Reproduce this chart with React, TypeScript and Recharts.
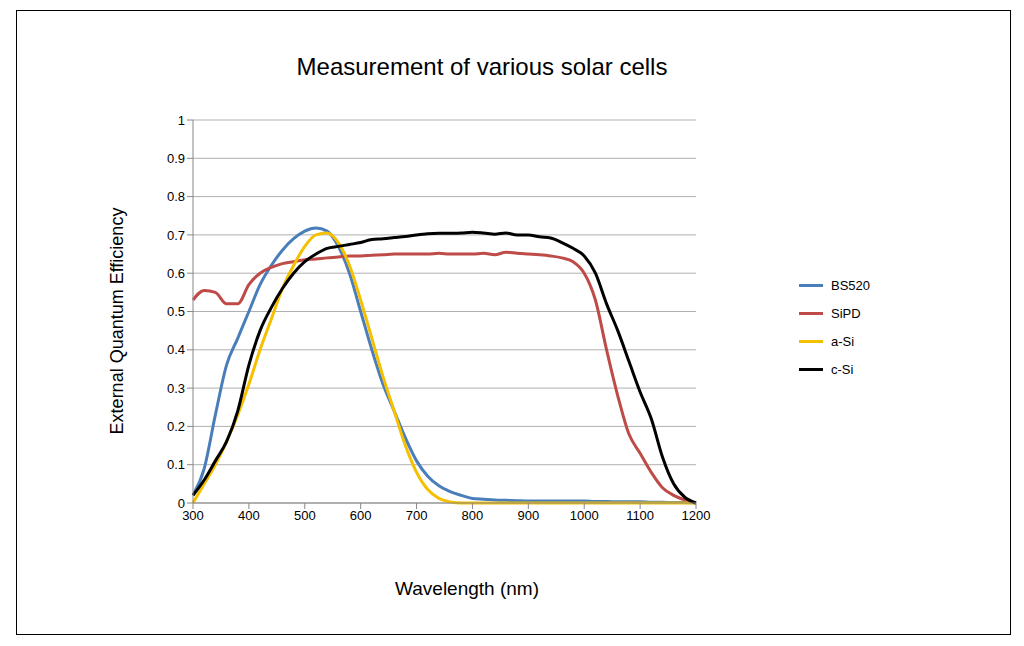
import { LineChart, Line, XAxis, YAxis, CartesianGrid } from 'recharts'

const wavelengths = [300, 320, 340, 360, 380, 400, 420, 440, 460, 480, 500, 520, 540, 560, 580, 600, 620, 640, 660, 680, 700, 720, 740, 760, 780, 800, 820, 840, 860, 880, 900, 920, 940, 960, 980, 1000, 1020, 1040, 1060, 1080, 1100, 1120, 1140, 1160, 1180, 1200]

const bs520 = [0.02, 0.09, 0.23, 0.36, 0.43, 0.5, 0.57, 0.62, 0.66, 0.69, 0.71, 0.718, 0.71, 0.67, 0.6, 0.5, 0.4, 0.31, 0.24, 0.17, 0.11, 0.07, 0.045, 0.03, 0.02, 0.012, 0.01, 0.008, 0.007, 0.006, 0.005, 0.005, 0.005, 0.005, 0.005, 0.005, 0.004, 0.004, 0.003, 0.003, 0.003, 0.002, 0.002, 0.001, 0.001, 0]
const sipd = [0.53, 0.555, 0.55, 0.52, 0.52, 0.57, 0.6, 0.615, 0.625, 0.63, 0.635, 0.637, 0.64, 0.642, 0.645, 0.645, 0.647, 0.648, 0.65, 0.65, 0.65, 0.65, 0.652, 0.65, 0.65, 0.65, 0.652, 0.648, 0.655, 0.652, 0.65, 0.648, 0.645, 0.64, 0.63, 0.6, 0.53, 0.4, 0.28, 0.18, 0.13, 0.08, 0.04, 0.02, 0.008, 0]
const aSi = [0.0, 0.05, 0.1, 0.16, 0.23, 0.31, 0.4, 0.48, 0.56, 0.62, 0.67, 0.7, 0.705, 0.68, 0.62, 0.53, 0.43, 0.33, 0.24, 0.15, 0.08, 0.035, 0.012, 0.003, 0, 0, 0, 0, 0, 0, 0, 0, 0, 0, 0, 0, 0, 0, 0, 0, 0, 0, 0, 0, 0, 0]
const cSi = [0.02, 0.06, 0.11, 0.16, 0.24, 0.36, 0.45, 0.51, 0.56, 0.6, 0.63, 0.65, 0.665, 0.67, 0.675, 0.68, 0.688, 0.69, 0.693, 0.696, 0.7, 0.703, 0.704, 0.704, 0.705, 0.707, 0.705, 0.702, 0.705, 0.7, 0.7, 0.695, 0.692, 0.68, 0.665, 0.645, 0.6, 0.52, 0.45, 0.37, 0.29, 0.22, 0.12, 0.05, 0.015, 0]

const xTicks = [300, 400, 500, 600, 700, 800, 900, 1000, 1100, 1200]
const yTicks = [0, 0.1, 0.2, 0.3, 0.4, 0.5, 0.6, 0.7, 0.8, 0.9, 1]

const series = [
  { key: 'BS520', values: bs520, color: '#4a7ebb' },
  { key: 'SiPD', values: sipd, color: '#be4b48' },
  { key: 'a-Si', values: aSi, color: '#f5c000' },
  { key: 'c-Si', values: cSi, color: '#000000' },
]

const data = wavelengths.map((w, i) => {
  const row: Record<string, number> = { w }
  series.forEach((s) => (row[s.key] = s.values[i]))
  return row
})

const font = '"Liberation Sans", Arial, sans-serif'

export default function App() {
  return (
    <div style={{ position: 'absolute', left: 16, top: 10, width: 993, height: 623, border: '1px solid #000', background: '#fff', fontFamily: font }}>
      <div style={{ position: 'absolute', top: 42, left: 0, width: 930, textAlign: 'center', fontSize: 24 }}>
        Measurement of various solar cells
      </div>
      <div style={{ position: 'absolute', left: 100, top: 310, transform: 'translate(-50%, -50%) rotate(-90deg)', fontSize: 18, whiteSpace: 'nowrap' }}>
        External Quantum Efficiency
      </div>
      <div style={{ position: 'absolute', left: 0, width: 900, top: 567, textAlign: 'center', fontSize: 19 }}>
        Wavelength (nm)
      </div>
      <LineChart width={993} height={623} data={data} margin={{ top: 109, right: 314, bottom: 101, left: 0 }}>
        <CartesianGrid vertical={false} stroke="#b0b0b0" />
        <XAxis dataKey="w" type="number" domain={[300, 1200]} ticks={xTicks} stroke="#888" tick={{ fill: '#000', fontSize: 13 }} tickLine={{ stroke: '#888' }} height={30} />
        <YAxis type="number" domain={[0, 1]} ticks={yTicks} stroke="#888" tick={{ fill: '#000', fontSize: 13 }} width={176} tickFormatter={(v: number) => String(v)} />
        {series.map((s) => (
          <Line key={s.key} dataKey={s.key} type="monotone" stroke={s.color} strokeWidth={3} dot={false} isAnimationActive={false} />
        ))}
      </LineChart>
      <div style={{ position: 'absolute', left: 782, top: 260, fontSize: 13 }}>
        {series.map((s) => (
          <div key={s.key} style={{ display: 'flex', alignItems: 'center', height: 28 }}>
            <div style={{ width: 24, height: 3, background: s.color, marginRight: 8 }} />
            {s.key}
          </div>
        ))}
      </div>
    </div>
  )
}
